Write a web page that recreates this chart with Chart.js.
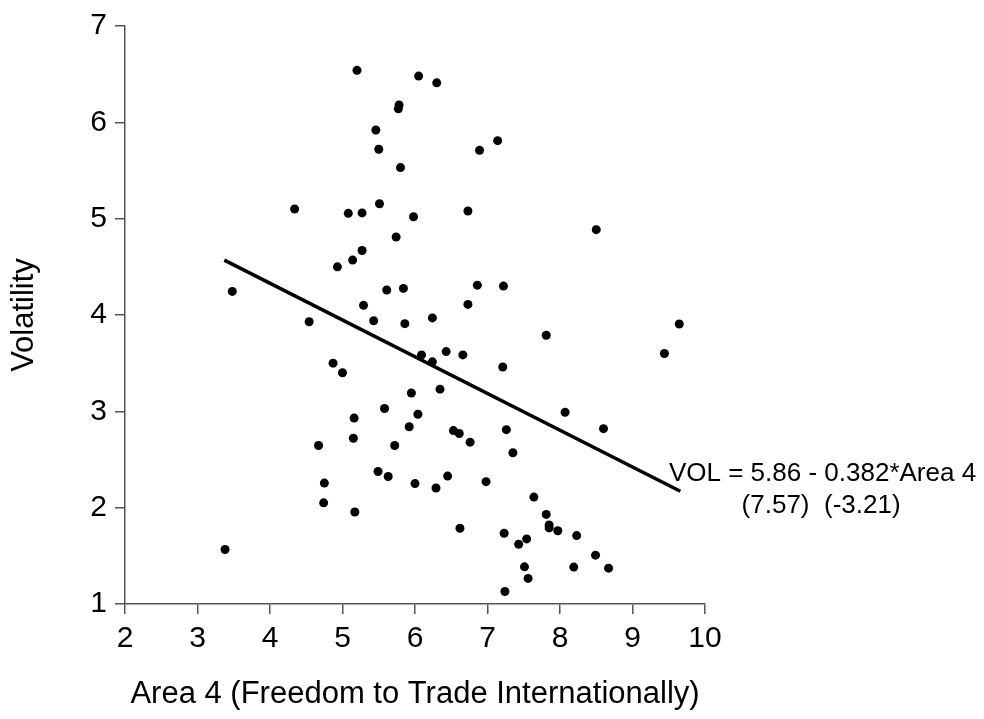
<!DOCTYPE html>
<html>
<head>
<meta charset="utf-8">
<script src="https://cdn.jsdelivr.net/npm/chart.js@4.4.1/dist/chart.umd.min.js"></script>
<style>
  body { margin: 0; background: #fff; }
  #wrap { width: 984px; height: 719px; }
</style>
</head>
<body>
<div id="wrap"><canvas id="chart" width="984" height="719"></canvas></div>
<script>
// freedom to trade score (x) vs volatility (y), one entry per country
const area4 = [
  5.20, 5.78, 5.77, 5.46, 5.50, 5.80, 4.34, 5.08, 5.27, 5.51,
  5.74, 5.27, 5.14, 4.93, 3.48, 5.61, 5.29, 6.05, 6.30, 6.89,
  7.14, 5.98, 6.73, 8.50, 5.84, 6.86, 7.22, 6.73, 6.24, 5.86,
  9.645, 4.54, 5.43, 4.87, 5.00, 5.58, 5.16, 5.15, 4.67, 5.72,
  5.49, 5.63, 4.75, 4.74, 5.17, 3.38, 7.81, 9.44, 6.09, 6.24,
  6.43, 6.66, 7.21, 6.345, 5.95, 6.04, 8.07, 8.60, 5.92, 6.53,
  6.61, 7.26, 6.76, 7.35, 6.00, 6.29, 6.45, 6.98, 7.64, 7.81,
  7.85, 7.85, 7.97, 8.23, 6.62, 7.23, 7.43, 7.54, 8.49, 7.51,
  8.19, 8.67, 7.56, 7.24
];
const volatility = [
  6.54, 6.18, 6.14, 5.92, 5.72, 5.53, 5.10, 5.055, 5.06, 5.155,
  4.81, 4.67, 4.57, 4.50, 4.245, 4.26, 4.10, 6.48, 6.41, 5.71,
  5.81, 5.02, 5.08, 4.886, 4.276, 4.31, 4.30, 4.11, 3.97, 3.91,
  3.907, 3.93, 3.94, 3.50, 3.40, 3.03, 2.93, 2.72, 2.645, 2.645,
  2.376, 2.324, 2.255, 2.05, 1.955, 1.566, 3.79, 3.60, 3.586, 3.514,
  3.62, 3.586, 3.46, 3.23, 3.19, 2.97, 2.99, 2.82, 2.84, 2.80,
  2.77, 2.81, 2.68, 2.57, 2.25, 2.204, 2.328, 2.27, 2.11, 1.93,
  1.82, 1.79, 1.76, 1.71, 1.786, 1.734, 1.62, 1.676, 1.507, 1.386,
  1.383, 1.372, 1.266, 1.13
];

// fitted line ends
const fitX = [3.37, 9.66];
const fitY = [4.57, 2.17];

const xTicks = [2, 3, 4, 5, 6, 7, 8, 9, 10];
const yTicks = [1, 2, 3, 4, 5, 6, 7];

const eqLines = ['VOL = 5.86 - 0.382*Area 4', '(7.57)  (-3.21)'];

const points = area4.map((x, i) => ({ x: x, y: volatility[i] }));
const fitLine = fitX.map((x, i) => ({ x: x, y: fitY[i] }));

// equation text next to the end of the fitted line
const equationPlugin = {
  id: 'equation',
  afterDatasetsDraw(chart) {
    const ctx = chart.ctx;
    const xs = chart.scales.x, ys = chart.scales.y;
    ctx.save();
    ctx.fillStyle = '#000';
    ctx.font = '26px "Liberation Sans", Arial, sans-serif';
    ctx.textAlign = 'left';
    ctx.textBaseline = 'alphabetic';
    ctx.fillText(eqLines[0], xs.getPixelForValue(9.503), ys.getPixelForValue(2.272));
    ctx.fillText(eqLines[1], xs.getPixelForValue(10.505), ys.getPixelForValue(1.94));
    ctx.restore();
  }
};

const axisFont = { family: '"Liberation Sans", Arial, sans-serif', size: 30 };
const titleFont = { family: '"Liberation Sans", Arial, sans-serif', size: 31 };

new Chart(document.getElementById('chart'), {
  data: {
    datasets: [
      {
        type: 'scatter',
        data: points,
        backgroundColor: '#000',
        borderWidth: 0,
        pointRadius: 4.5
      },
      {
        type: 'line',
        data: fitLine,
        borderColor: '#000',
        borderWidth: 3.5,
        pointRadius: 0,
        fill: false
      }
    ]
  },
  options: {
    responsive: false,
    animation: false,
    devicePixelRatio: 1,
    layout: { padding: { left: 0, top: 24, right: 279, bottom: 0 } },
    plugins: { legend: { display: false }, tooltip: { enabled: false } },
    scales: {
      x: {
        type: 'linear',
        min: 2, max: 10,
        afterBuildTicks: (s) => { s.ticks = xTicks.map(v => ({ value: v })); },
        afterFit: (s) => { s.height = 115; },
        border: { color: '#555', width: 1.5 },
        grid: { drawOnChartArea: false, drawTicks: true, tickLength: 10, color: '#555', lineWidth: 1.5 },
        ticks: { color: '#000', font: axisFont, padding: 7, maxRotation: 0 },
        title: { display: true, text: 'Area 4 (Freedom to Trade Internationally)', color: '#000', font: titleFont, padding: { top: 0, bottom: 6 } }
      },
      y: {
        type: 'linear',
        min: 1, max: 7,
        afterBuildTicks: (s) => { s.ticks = yTicks.map(v => ({ value: v })); },
        afterFit: (s) => { s.width = 125; },
        border: { color: '#555', width: 1.5 },
        grid: { drawOnChartArea: false, drawTicks: true, tickLength: 10, color: '#555', lineWidth: 1.5 },
        ticks: { color: '#000', font: axisFont, padding: 8 },
        title: { display: true, text: 'Volatility', color: '#000', font: titleFont, padding: { top: 6, bottom: 0 } }
      }
    }
  },
  plugins: [equationPlugin]
});
</script>
</body>
</html>
